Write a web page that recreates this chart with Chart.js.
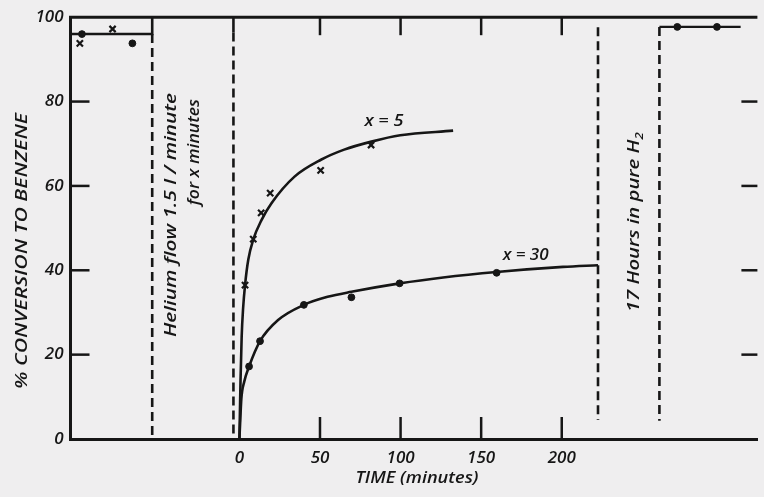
<!DOCTYPE html>
<html>
<head>
<meta charset="utf-8">
<script src="https://cdn.jsdelivr.net/npm/chart.js@4/dist/chart.umd.min.js"></script>
<style>
  html, body { margin: 0; padding: 0; background: #efeeef; }
  #wrap { width: 764px; height: 497px; }
</style>
</head>
<body>
<div id="wrap"><canvas id="c" width="764" height="497"></canvas></div>
<script>
// ---------------- data ----------------
const timeTicks = [0, 50, 100, 150, 200];
const pctTicks = [0, 20, 40, 60, 80, 100];

// initial activity (before the helium flush)
const preDotTime = [-97.7, -66.4];
const preDotPct = [96.0, 93.8];
const preCrossTime = [-99.0, -78.7];
const preCrossPct = [93.8, 97.2];
const preLineTime = [-104.8, -54.1, -54.1];
const preLinePct = [96.0, 96.0, 100];

// phase boundaries (minutes on the time scale)
const heliumStartTime = -54.1;
const restartTime = -3.7;
const h2StartTime = 222.5;
const h2EndTime = 260.6;

// x = 5 minutes helium
const x5Time = [3.5, 8.6, 13.5, 19.1, 50.4, 81.7];
const x5Pct = [36.5, 47.4, 53.6, 58.3, 63.7, 69.7];
const x5CurveTime = [0, 0.3, 0.7, 1.4, 2.3, 3.5, 5.5, 8.6, 13.7, 19.9, 34.2, 50.6, 65, 81.9, 99.8, 132.6];
const x5CurvePct = [0, 6, 14, 24.2, 31, 36.5, 42.5, 47.3, 51.9, 55.9, 62.2, 66.2, 68.6, 70.5, 72.0, 73.1];

// x = 30 minutes helium
const x30Time = [6.0, 12.8, 40, 69.5, 99.4, 159.6];
const x30Pct = [17.2, 23.2, 31.8, 33.6, 36.9, 39.4];
const x30CurveTime = [0, 0.6, 1.2, 3.0, 6.0, 12.8, 24, 40, 54.7, 69.5, 99.4, 126.4, 159.6, 200.8, 222.5];
const x30CurvePct = [0, 5, 9.5, 13.6, 17.2, 23.2, 28.2, 31.8, 33.7, 34.9, 36.9, 38.3, 39.6, 40.8, 41.2];

// after 17 hours in pure H2
const postTime = [271.7, 296.3];
const postPct = [97.7, 97.7];
const postLineTime = [260.6, 311];
const postLinePct = [97.7, 97.7];

// ---------------- helpers ----------------
const INK = '#161616';
const zip = (xs, ys) => xs.map((x, i) => ({ x: x, y: ys[i] }));
const vline = (t, from, to) => [{ x: t, y: from }, { x: t, y: to }];

function lineDs(data, dashed, width) {
  return {
    type: 'line', data: data, showLine: true, borderColor: INK,
    borderWidth: width || 2.6, borderDash: dashed ? [9, 5] : [],
    pointRadius: 0, fill: false, tension: 0
  };
}
function curveDs(data) {
  return {
    type: 'line', data: data, showLine: true, borderColor: INK,
    borderWidth: 2.6, pointRadius: 0, fill: false,
    cubicInterpolationMode: 'monotone'
  };
}
function markDs(data, style) {
  return {
    type: 'scatter', data: data, showLine: false,
    pointStyle: style, pointRadius: style === 'circle' ? 3.4 : 4.4,
    borderColor: INK, backgroundColor: INK, borderWidth: style === 'circle' ? 1 : 2.2
  };
}

// draw text stretched to a target length along its baseline
function fitRuns(ctx, runs, cx, cy, rot, len) {
  ctx.save();
  let total = 0;
  runs.forEach(r => { ctx.font = r.font; r.w = ctx.measureText(r.text).width; total += r.w; });
  ctx.translate(cx, cy);
  ctx.rotate(rot);
  ctx.scale(len / total, 1);
  ctx.textAlign = 'left';
  ctx.textBaseline = 'middle';
  ctx.fillStyle = INK;
  let x = -total / 2;
  runs.forEach(r => { ctx.font = r.font; ctx.fillText(r.text, x, r.dy || 0); x += r.w; });
  ctx.restore();
}
const F = (size) => 'italic 600 ' + size + 'px "Open Sans", "DejaVu Sans", sans-serif';

const decor = {
  id: 'decor',
  beforeDraw(chart) {
    const ctx = chart.ctx;
    ctx.save();
    ctx.fillStyle = '#efeeef';
    ctx.fillRect(0, 0, chart.width, chart.height);
    ctx.restore();
  },
  afterDraw(chart) {
    const ctx = chart.ctx;
    const a = chart.chartArea;
    const xs = chart.scales.x, ys = chart.scales.y;
    ctx.save();
    ctx.strokeStyle = INK;
    ctx.lineCap = 'butt';
    // top frame
    ctx.lineWidth = 3;
    ctx.beginPath(); ctx.moveTo(a.left - 1.5, a.top); ctx.lineTo(a.right, a.top); ctx.stroke();
    // inward ticks
    ctx.lineWidth = 2.5;
    pctTicks.filter(v => v > 0 && v < 100).forEach(v => {
      const y = ys.getPixelForValue(v);
      ctx.beginPath(); ctx.moveTo(a.left, y); ctx.lineTo(a.left + 19, y); ctx.stroke();
      ctx.beginPath(); ctx.moveTo(a.right - 16, y); ctx.lineTo(a.right, y); ctx.stroke();
    });
    timeTicks.filter(v => v > 0).forEach(v => {
      const x = xs.getPixelForValue(v);
      ctx.beginPath(); ctx.moveTo(x, a.bottom); ctx.lineTo(x, a.bottom - 22); ctx.stroke();
      ctx.beginPath(); ctx.moveTo(x, a.top); ctx.lineTo(x, a.top + 18); ctx.stroke();
    });
    ctx.restore();

    // axis titles
    fitRuns(ctx, [{ text: '% CONVERSION TO BENZENE', font: F(17) }], 22, 251, -Math.PI / 2, 276);
    fitRuns(ctx, [{ text: 'TIME (minutes)', font: F(16) }], 417, 478, 0, 123);
    // annotations placed on the data scales
    const P = (t, v) => [xs.getPixelForValue(t), ys.getPixelForValue(v)];
    let p = P(-42.4, 53.1);
    fitRuns(ctx, [{ text: 'Helium flow 1.5 l / minute', font: F(17) }], p[0], p[1], -Math.PI / 2, 244);
    p = P(-28.3, 68);
    fitRuns(ctx, [{ text: 'for x minutes', font: F(17) }], p[0], p[1], -Math.PI / 2, 106);
    p = P(245.2, 51.4);
    fitRuns(ctx, [{ text: '17 Hours in pure H', font: F(17) }, { text: '2', font: F(11), dy: 5 }],
      p[0], p[1], -Math.PI / 2, 180);
    p = P(89.7, 75.4);
    fitRuns(ctx, [{ text: 'x = 5', font: F(17) }], p[0], p[1], 0, 39);
    p = P(177.6, 43.6);
    fitRuns(ctx, [{ text: 'x = 30', font: F(17) }], p[0], p[1], 0, 46);
  }
};

const datasets = [
  // frame pieces and phase boundaries
  lineDs(zip(preLineTime, preLinePct), false),
  lineDs(vline(heliumStartTime, preLinePct[0], 0), true),
  lineDs(vline(restartTime, 100, 96.4), false),
  lineDs(vline(restartTime, 96.4, 0), true),
  lineDs(vline(h2StartTime, 97.6, 4.5), true),
  lineDs(vline(h2EndTime, postLinePct[0], 4.3), true),
  lineDs(zip(postLineTime, postLinePct), false, 2.2),
  // curves
  curveDs(zip(x5CurveTime, x5CurvePct)),
  curveDs(zip(x30CurveTime, x30CurvePct)),
  // measured points
  markDs(zip(preDotTime, preDotPct), 'circle'),
  markDs(zip(preCrossTime, preCrossPct), 'crossRot'),
  markDs(zip(x5Time, x5Pct), 'crossRot'),
  markDs(zip(x30Time, x30Pct), 'circle'),
  markDs(zip(postTime, postPct), 'circle')
];

const tickFont = { family: '"Open Sans", "DejaVu Sans", sans-serif', style: 'italic', weight: '600', size: 17 };

new Chart(document.getElementById('c'), {
  type: 'scatter',
  data: { datasets: datasets },
  options: {
    responsive: false,
    animation: false,
    devicePixelRatio: 1,
    layout: { padding: { top: 17, right: 0, bottom: 0, left: 0 } },
    plugins: { legend: { display: false }, tooltip: { enabled: false } },
    scales: {
      x: {
        type: 'linear', min: -104.8, max: 321.4,
        afterBuildTicks: (s) => { s.ticks = timeTicks.map(v => ({ value: v })); },
        afterFit: (s) => { s.height = 58; },
        grid: { display: false, drawTicks: false },
        border: { display: true, width: 3, color: INK },
        ticks: { color: INK, font: tickFont, padding: 9, maxRotation: 0, autoSkip: false }
      },
      y: {
        type: 'linear', min: 0, max: 100,
        afterBuildTicks: (s) => { s.ticks = pctTicks.map(v => ({ value: v })); },
        afterFit: (s) => { s.width = 70.5; },
        grid: { display: false, drawTicks: false },
        border: { display: true, width: 3, color: INK },
        ticks: { color: INK, font: tickFont, padding: 7 }
      }
    }
  },
  plugins: [decor]
});
</script>
</body>
</html>
